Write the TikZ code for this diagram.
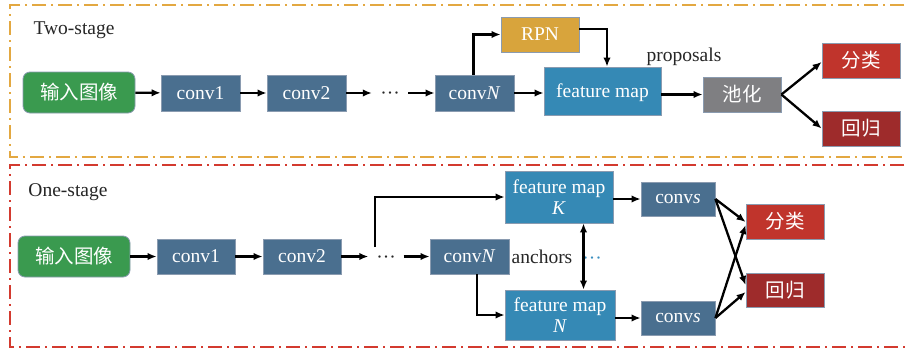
\documentclass[tikz,border=0pt]{standalone}
\usepackage{fontspec}
\setmainfont{Liberation Serif}
\newfontfamily\cjk{Noto Sans CJK SC}
\usetikzlibrary{arrows.meta}
\definecolor{ingreen}{HTML}{3A9A4F}
\definecolor{convc}{HTML}{4A6F8F}
\definecolor{fmc}{HTML}{3589B5}
\definecolor{rpnc}{HTML}{D8A43C}
\definecolor{poolc}{HTML}{7F7F82}
\definecolor{clsc}{HTML}{C0342C}
\definecolor{regc}{HTML}{9E2B2B}
\definecolor{frameor}{HTML}{E3A841}
\definecolor{framered}{HTML}{D33A2F}
\definecolor{edgec}{HTML}{8A9BB0}
\definecolor{dotblue}{HTML}{3A8FC0}
\begin{document}
\begin{tikzpicture}[x=1pt,y=-1pt,
  txt/.style={font=\fontsize{19.5}{22}\selectfont},
  box/.style={txt, draw=edgec, line width=0.8pt, text=white, inner sep=0pt, align=center},
  inbox/.style={box, fill=ingreen, rounded corners=7pt, minimum width=112pt, minimum height=41pt, font=\cjk\fontsize{19.5}{22}\selectfont},
  convbox/.style={box, fill=convc, minimum width=79pt, minimum height=36pt},
  fmbox/.style={box, fill=fmc},
  cbox/.style={box, minimum width=78pt, minimum height=35pt, font=\cjk\fontsize{19.5}{22}\selectfont},
  lbl/.style={txt, text=black!85, inner sep=0pt},
  dotsl/.style={lbl, text height=13pt, text depth=0pt},
  arr/.style={-{Latex[length=9pt,width=7.5pt]}, line width=2.3pt},
  frame/.style={line width=2pt, dash pattern=on 14pt off 5pt on 2pt off 5pt}
]
\useasboundingbox (0,0) rectangle (907,351);
\fill[white] (0,0) rectangle (907,351);
% frames
\draw[frame, frameor] (930,5) -- (10,5) -- (10,157) -- (930,157);
\draw[frame, framered] (930,165) -- (10,165) -- (10,347) -- (930,347);

% ---------- Two-stage ----------
\node[lbl] (ts) at (74,30) {Two-stage};
\node[inbox] (ina) at (79,92.5) {输入图像};
\node[convbox] (c1a) at (200.5,93) {conv1};
\node[convbox] (c2a) at (306.5,93) {conv2};
\node[dotsl, minimum width=36pt] (dta) at (390,93) {···};
\node[convbox] (cna) at (474.5,93) {conv\textit{N}};
\node[box, fill=rpnc, minimum width=78pt, minimum height=35pt] (rpn) at (540,34.5) {RPN};
\node[fmbox, minimum width=117pt, minimum height=48pt, text height=12pt, text depth=0pt] (fma) at (602.5,91) {feature map};
\node[lbl] (prop) at (684,57) {proposals};
\node[cbox, fill=poolc] (pool) at (742,94.5) {池化};
\node[cbox, fill=clsc] (clsa) at (861,60.5) {分类};
\node[cbox, fill=regc] (rega) at (861,128.5) {回归};

\draw[arr] (ina) -- (c1a);
\draw[arr] (c1a) -- (c2a);
\draw[arr] (c2a) -- (dta);
\draw[arr] (dta) -- (cna);
\draw[arr] (cna) -- (cna -| fma.west);
\draw[arr] ([xshift=-1pt]cna.north) |- (rpn.west);
\draw[arr] ([yshift=5.5pt]rpn.east) -| ([xshift=4.5pt]fma.north);
\draw[arr] (fma.east |- pool) -- (pool);
\draw[arr] (pool.east) -- ([yshift=-1.5pt]clsa.west);
\draw[arr] (pool.east) -- (rega.west);

% ---------- One-stage ----------
\node[lbl] (os) at (68,192) {One-stage};
\node[inbox] (inb) at (74,256.5) {输入图像};
\node[convbox, minimum width=78pt, minimum height=35pt] (c1b) at (196,256.5) {conv1};
\node[convbox, minimum width=78pt, minimum height=35pt] (c2b) at (302,256.5) {conv2};
\node[dotsl, minimum width=35pt] (dtb) at (386,256.5) {···};
\node[convbox, minimum height=35pt] (cnb) at (469.5,256.5) {conv\textit{N}};
\node[fmbox, minimum width=108pt, minimum height=52pt] (fmk) at (559,197) {feature map\\[-1pt]\textit{K}};
\node[fmbox, minimum width=110pt, minimum height=50pt] (fmn) at (560,315) {feature map\\[-1pt]\textit{N}};
\node[convbox, minimum width=74pt, minimum height=34pt] (cvk) at (678,199) {conv\textit{s}};
\node[convbox, minimum width=74pt, minimum height=34pt] (cvn) at (678,318) {conv\textit{s}};
\node[cbox, fill=clsc] (clsb) at (785,221.5) {分类};
\node[cbox, fill=regc, minimum height=34pt] (regb) at (785,290) {回归};
\node[lbl] (anc) at (542,257) {anchors};
\node[dotsl, text=dotblue] (bdots) at (592,258) {···};
\coordinate (br) at (375,247);
\coordinate (da) at (583.5,0);

\draw[arr] (inb) -- (c1b);
\draw[arr] (c1b) -- (c2b);
\draw[arr] (c2b) -- (dtb);
\draw[arr] (dtb) -- (cnb);
\draw[arr] (br) |- (fmk.west);
\draw[arr] ([xshift=7.5pt]cnb.south) |- (fmn.west);
\draw[arr, {Latex[length=9pt,width=7.5pt]}-{Latex[length=9pt,width=7.5pt]}] (fmk.south -| da) -- (fmn.north -| da);
\draw[arr] (fmk.east |- cvk) -- (cvk);
\draw[arr] (fmn.east |- cvn) -- (cvn);
\draw[arr] (cvk.east) -- ([yshift=-0.5pt]clsb.west);
\draw[arr] (cvk.east) -- ([yshift=5pt]regb.west);
\draw[arr] (cvn.east) -- ([yshift=-3.5pt]clsb.west);
\draw[arr] (cvn.east) -- ([yshift=-2pt]regb.west);
\end{tikzpicture}
\end{document}
